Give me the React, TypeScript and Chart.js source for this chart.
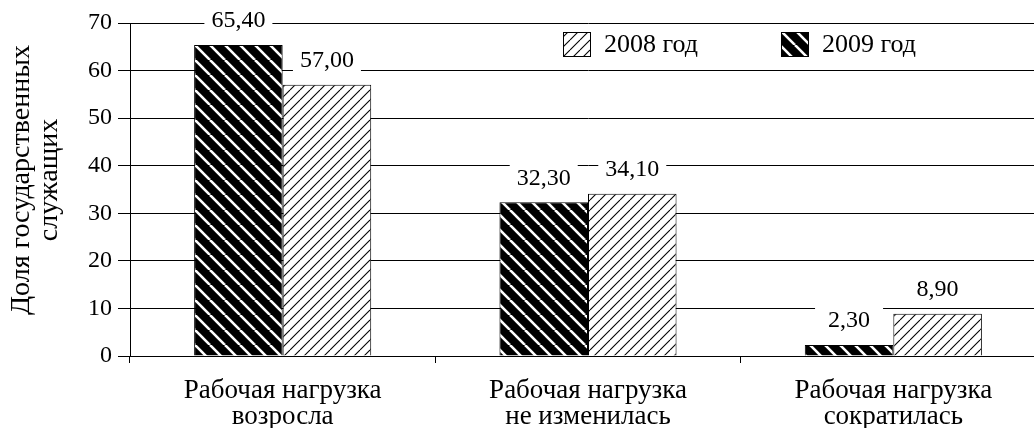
import React, { useEffect, useRef } from "react";
import { Chart, registerables } from "chart.js";

Chart.register(...registerables);

const categories: string[][] = [
  ["Рабочая нагрузка", "возросла"],
  ["Рабочая нагрузка", "не изменилась"],
  ["Рабочая нагрузка", "сократилась"],
];
const values2009: number[] = [65.4, 32.3, 2.3];
const values2008: number[] = [57.0, 34.1, 8.9];
const seriesLabels: string[] = ["2009 год", "2008 год"];
const yTitle: string[] = ["Доля государственных", "служащих"];
const yMin = 0;
const yMax = 70;
const yStep = 10;

const FONT = '"Liberation Serif", "Times New Roman", serif';

function makeLightPattern(): CanvasPattern | string {
  const s = 10;
  const c = document.createElement("canvas");
  c.width = s;
  c.height = s;
  const x = c.getContext("2d");
  if (!x) return "#fff";
  x.fillStyle = "#fff";
  x.fillRect(0, 0, s, s);
  x.strokeStyle = "#000";
  x.lineWidth = 1.1;
  for (let k = -1; k <= 1; k++) {
    x.beginPath();
    x.moveTo(k * s, s);
    x.lineTo(k * s + s, 0);
    x.stroke();
  }
  return x.createPattern(c, "repeat") || "#fff";
}

function makeDarkPattern(): CanvasPattern | string {
  const s = 15;
  const c = document.createElement("canvas");
  c.width = s;
  c.height = s;
  const x = c.getContext("2d");
  if (!x) return "#000";
  x.fillStyle = "#000";
  x.fillRect(0, 0, s, s);
  x.strokeStyle = "#fff";
  x.lineWidth = 2.6;
  for (let k = -1; k <= 1; k++) {
    x.beginPath();
    x.moveTo(k * s, 0);
    x.lineTo(k * s + s, s);
    x.stroke();
  }
  return x.createPattern(c, "repeat") || "#000";
}

export default function App() {
  const ref = useRef<HTMLCanvasElement | null>(null);

  useEffect(() => {
    document.body.style.margin = "0";
    const canvas = ref.current;
    if (!canvas) return;
    const dark = makeDarkPattern();
    const light = makeLightPattern();

    const labelPlugin = {
      id: "valueLabels",
      afterDatasetsDraw(chart: any) {
        const ctx = chart.ctx;
        ctx.save();
        ctx.font = `24px ${FONT}`;
        ctx.textAlign = "center";
        ctx.textBaseline = "middle";
        chart.data.datasets.forEach((ds: any, di: number) => {
          const meta = chart.getDatasetMeta(di);
          meta.data.forEach((bar: any, i: number) => {
            const v = ds.data[i] as number;
            const txt = v.toFixed(2).replace(".", ",");
            const cx = bar.x;
            const cy = bar.y - 25;
            const w = 68;
            ctx.fillStyle = "#fff";
            ctx.fillRect(cx - w / 2, cy - 13, w, 26);
            ctx.fillStyle = "#000";
            ctx.fillText(txt, cx, cy + 1);
          });
        });
        ctx.restore();
      },
      afterDraw(chart: any) {
        const ctx = chart.ctx;
        ctx.save();
        // y title
        ctx.font = `28px ${FONT}`;
        ctx.fillStyle = "#000";
        ctx.textAlign = "center";
        ctx.textBaseline = "middle";
        const midY = 180;
        yTitle.forEach((t, i) => {
          ctx.save();
          ctx.translate(22 + i * 28, midY);
          ctx.rotate(-Math.PI / 2);
          ctx.fillText(t, 0, 0);
          ctx.restore();
        });
        // legend (2008 first, then 2009)
        ctx.font = `26px ${FONT}`;
        const items = [
          { label: seriesLabels[1], fill: light, x: 563 },
          { label: seriesLabels[0], fill: dark, x: 781 },
        ];
        ctx.textAlign = "left";
        items.forEach((it) => {
          ctx.fillStyle = it.fill as any;
          ctx.fillRect(it.x, 32, 28, 25);
          ctx.strokeStyle = "#000";
          ctx.lineWidth = 1;
          ctx.strokeRect(it.x + 0.5, 32.5, 27, 24);
          ctx.fillStyle = "#000";
          ctx.fillText(it.label, it.x + 41, 45);
        });
        ctx.restore();
      },
    };

    const chart = new Chart(canvas, {
      type: "bar",
      data: {
        labels: categories,
        datasets: [
          {
            label: seriesLabels[0],
            data: values2009,
            backgroundColor: dark as any,
            borderColor: "#000",
            borderWidth: 1,
            categoryPercentage: 0.58,
            barPercentage: 1,
          },
          {
            label: seriesLabels[1],
            data: values2008,
            backgroundColor: light as any,
            borderColor: "#000",
            borderWidth: 1,
            categoryPercentage: 0.58,
            barPercentage: 1,
          },
        ],
      },
      options: {
        animation: false,
        responsive: false,
        maintainAspectRatio: false,
        layout: { padding: { top: 23, right: 0, bottom: 0, left: 0 } },
        plugins: {
          legend: { display: false },
          tooltip: { enabled: false },
        },
        scales: {
          x: {
            afterFit(scale: any) {
              scale.height = 72;
            },
            grid: {
              offset: true,
              drawOnChartArea: false,
              drawTicks: true,
              tickLength: 7,
              color: "#000",
            },
            border: { color: "#000", width: 1 },
            ticks: {
              color: "#000",
              padding: 15,
              font: { family: FONT, size: 27, lineHeight: 0.97 },
              maxRotation: 0,
              autoSkip: false,
            },
          },
          y: {
            min: yMin,
            max: yMax,
            afterFit(scale: any) {
              scale.width = 130;
            },
            ticks: {
              stepSize: yStep,
              color: "#000",
              padding: 6,
              font: { family: FONT, size: 24 },
            },
            grid: {
              color: "#000",
              lineWidth: 1,
              drawTicks: true,
              tickLength: 12,
            },
            border: { color: "#000", width: 1 },
          },
        },
      },
      plugins: [labelPlugin],
    });
    return () => chart.destroy();
  }, []);

  return (
    <div
      style={{
        position: "absolute",
        left: 0,
        top: 0,
        width: 1034,
        height: 428,
        overflow: "hidden",
        background: "#fff",
      }}
    >
      <canvas ref={ref} width={1046} height={428} style={{ display: "block" }} />
    </div>
  );
}
